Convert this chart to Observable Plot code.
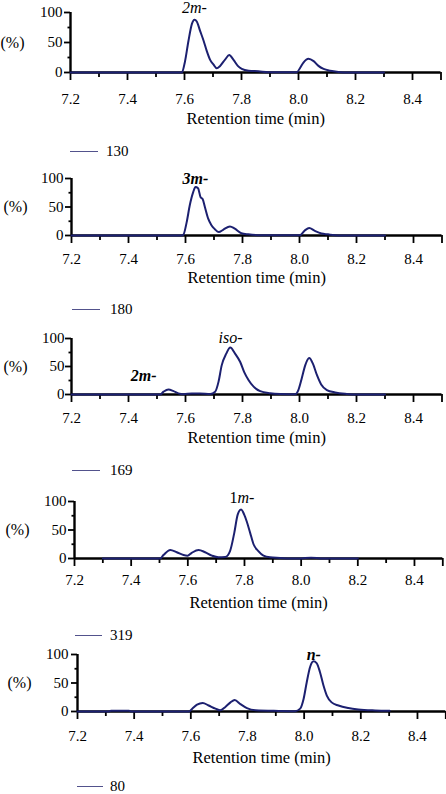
<!DOCTYPE html>
<html><head><meta charset="utf-8">
<script src="https://cdn.jsdelivr.net/npm/d3@7"></script>
<script src="https://cdn.jsdelivr.net/npm/@observablehq/plot@0.6"></script>
<style>
body{margin:0;background:#fff;}
#root{position:relative;width:446px;height:794px;overflow:hidden;font-family:"Liberation Serif","Times New Roman","DejaVu Serif",serif;color:#000;}
#root svg, #root svg text{font-family:"Liberation Serif","Times New Roman","DejaVu Serif",serif !important;}
.panel{position:absolute;left:0;}
.legend{position:absolute;font-size:15px;line-height:12px;height:12px;display:flex;align-items:center;white-space:nowrap;}
.legend .sw{display:inline-block;height:0;border-top:1.6px solid #52528c;}
</style></head><body><div id="root"></div>
<script>
// tick values
const xMajor = [7.2, 7.4, 7.6, 7.8, 8.0, 8.2, 8.4, 8.5];
const xLabeled = [7.2, 7.4, 7.6, 7.8, 8.0, 8.2, 8.4];
const xMinor = [7.3, 7.5, 7.7, 7.9, 8.1, 8.3];
const yMajor = [0, 50, 100];
const yMinor = [25, 75];
const ions = ["130", "180", "169", "319", "80"];

// m/z 130
const t130 = [7.2, 7.585, 7.591, 7.602, 7.614, 7.626, 7.635, 7.643, 7.655, 7.667, 7.678, 7.690, 7.702, 7.713, 7.725, 7.743, 7.757, 7.772, 7.787, 7.801, 7.825, 7.860, 7.895, 7.994, 8.006, 8.018, 8.035, 8.053, 8.070, 8.088, 8.111, 8.140, 8.17, 8.3];
const v130 = [0, 0, 0.5, 19, 53, 81, 88, 85, 69, 53, 36, 21, 13, 7, 11, 22, 29, 21, 11, 6, 3, 2, 0.5, 0.5, 8, 17, 23, 19, 11, 6, 3, 1, 0, 0];
// m/z 180
const t180 = [7.2, 7.586, 7.592, 7.604, 7.615, 7.627, 7.635, 7.644, 7.653, 7.660, 7.668, 7.680, 7.691, 7.703, 7.717, 7.732, 7.756, 7.773, 7.796, 7.82, 7.867, 8.001, 8.019, 8.034, 8.054, 8.077, 8.1, 8.124, 8.15, 8.3];
const v180 = [0, 0, 1, 23, 53, 76, 85, 83, 67, 64, 50, 29, 18, 11, 6, 10, 16, 12, 4, 2, 0.5, 0.5, 9, 13, 8, 3.5, 2, 0.5, 0, 0];
// m/z 169
const t169 = [7.2, 7.511, 7.523, 7.540, 7.558, 7.575, 7.593, 7.622, 7.651, 7.687, 7.704, 7.716, 7.727, 7.743, 7.757, 7.774, 7.792, 7.806, 7.821, 7.839, 7.862, 7.897, 7.932, 7.985, 7.996, 8.008, 8.020, 8.034, 8.047, 8.061, 8.076, 8.096, 8.125, 8.166, 8.2, 8.3];
const v169 = [0, 0, 5, 9, 6, 2, 0.5, 2, 2, 1, 5, 23, 52, 73, 84, 73, 58, 40, 26, 14, 6, 2.4, 1, 0.5, 8, 29, 52, 65, 55, 35, 18, 8, 3.6, 1, 0, 0];
// m/z 319
const t319 = [7.3, 7.502, 7.514, 7.538, 7.561, 7.585, 7.599, 7.614, 7.638, 7.661, 7.685, 7.708, 7.732, 7.749, 7.764, 7.776, 7.788, 7.799, 7.808, 7.820, 7.832, 7.849, 7.867, 7.890, 7.926, 7.96, 8.0, 8.014, 8.035, 8.055, 8.07, 8.2];
const v319 = [0, 0, 6, 15, 11, 6, 5, 10, 15, 11, 5, 2, 2.5, 13, 45, 77, 86, 77, 65, 45, 25, 13, 5, 2, 1, 0, 0, 1, 1.2, 1, 0, 0];
// m/z 80
const t80 = [7.2, 7.31, 7.318, 7.35, 7.382, 7.39, 7.593, 7.605, 7.622, 7.642, 7.663, 7.687, 7.704, 7.722, 7.740, 7.755, 7.775, 7.798, 7.828, 7.91, 7.968, 7.986, 7.998, 8.009, 8.021, 8.033, 8.044, 8.056, 8.068, 8.080, 8.097, 8.121, 8.156, 8.191, 8.25, 8.302];
const v80 = [0, 0, 1.5, 1.5, 1.5, 0, 0, 5, 12, 15, 10.5, 5, 2, 8, 16, 20, 13, 6, 2.3, 1, 0.5, 5, 22, 51, 78, 88, 85, 69, 46, 28, 16, 10.5, 6, 3.5, 1.8, 1.2];

// peak annotations: [text, time, %]
const labels130 = [["2m-", 7.635, 108]];
const labels180 = [["3m-", 7.635, 100]];
const labels169 = [["iso-", 7.758, 102], ["2m-", 7.453, 34]];
const labels319 = [["1", 7.775, 107], ["m-", 7.775, 107]];
const labels80 = [["n-", 8.034, 100]];

const series = [
  {t: t130, v: v130, labels: labels130},
  {t: t180, v: v180, labels: labels180},
  {t: t169, v: v169, labels: labels169},
  {t: t319, v: v319, labels: labels319},
  {t: t80, v: v80, labels: labels80}
];

// layout per panel
const layout = [
  {top: 0,   h: 60, ml: 70, mr: 5.5, tp: 13, xl: 46, pct: 0, yp: 2, leg: [70, 151, 28, 106], styles: [{fontStyle: "italic", fontWeight: "normal"}]},
  {top: 166, h: 57, ml: 71, mr: 4.5, tp: 10, xl: 42, pct: 3, yp: 2, leg: [72, 309, 28, 110], styles: [{fontStyle: "italic", fontWeight: "bold"}]},
  {top: 326, h: 56, ml: 71, mr: 4.5, tp: 10, xl: 43, pct: 3, yp: 1, leg: [72, 470, 28, 110], styles: [{fontStyle: "italic", fontWeight: "normal"}, {fontStyle: "italic", fontWeight: "bold"}]},
  {top: 489, h: 57, ml: 74, mr: 3.7, tp: 8,  xl: 44, pct: 5, yp: 2, leg: [75, 635, 27, 110], styles: [{fontStyle: "normal", fontWeight: "normal", anchor: "end"}, {fontStyle: "italic", fontWeight: "normal", anchor: "start"}]},
  {top: 642, h: 57, ml: 77, mr: 0.7, tp: 11, xl: 46, pct: 7, yp: 3, leg: [77, 786, 26, 110], styles: [{fontStyle: "italic", fontWeight: "bold"}]}
];

const root = document.getElementById("root");
const NAVY = "#1c2070";
const FONT = "Liberation Serif, Times New Roman, DejaVu Serif, serif";

series.forEach((s, i) => {
  const L = layout[i];
  const data = s.t.map((t, k) => ({t, v: s.v[k]}));
  const mT = 12, mB = 62;
  const labelMarks = s.labels.map((lab, j) => {
    const st = L.styles[j] || L.styles[0];
    return Plot.text([lab], {
      x: d => d[1], y: d => d[2], text: d => d[0],
      fontSize: 16, fontStyle: st.fontStyle, fontWeight: st.fontWeight, fontFamily: FONT,
      textAnchor: st.anchor || "middle", lineAnchor: "middle", fill: "#000"
    });
  });
  const chart = Plot.plot({
    width: 446,
    height: mT + L.h + mB,
    marginTop: mT, marginBottom: mB, marginLeft: L.ml, marginRight: L.mr,
    x: {domain: [7.2, 8.5], axis: null},
    y: {domain: [0, 100], axis: null},
    style: {fontFamily: FONT, fontSize: "15px", color: "#000", background: "transparent", overflow: "visible"},
    marks: [
      Plot.axisX(xMajor, {tickSize: 8, tickFormat: () => "", label: null, strokeWidth: 1.8}),
      Plot.axisX(xLabeled, {tickSize: 0, tickPadding: 8 + L.tp, tickFormat: d => d.toFixed(1), label: null, fontSize: 15, fontFamily: FONT}),
      Plot.axisX(xMinor, {tickSize: 5, tickFormat: () => "", label: null, strokeWidth: 1.8}),
      Plot.axisY(yMajor, {tickSize: 6, tickPadding: L.yp, label: null, fontSize: 15, fontFamily: FONT, strokeWidth: 1.8}),
      Plot.axisY(yMinor, {tickSize: 2.5, tickFormat: () => "", label: null, strokeWidth: 1.8}),
      Plot.ruleY([0], {x1: 7.2, x2: 8.5, stroke: "#000", strokeWidth: 2.4}),
      Plot.ruleX([7.2], {y1: 0, y2: 100, stroke: "#000", strokeWidth: 2.4}),
      Plot.line(data, {x: "t", y: "v", stroke: NAVY, strokeWidth: 2, curve: "monotone-x"}),
      ...labelMarks,
      Plot.text(["Retention time (min)"], {frameAnchor: "bottom", lineAnchor: "middle", dy: L.xl, fontSize: 16.5, fontFamily: FONT, fill: "#000"}),
      Plot.text(["(%)"], {frameAnchor: "left", lineAnchor: "middle", dx: -(L.ml - L.pct), textAnchor: "start", fontSize: 16, fontFamily: FONT, fill: "#000"})
    ]
  });
  const wrap = document.createElement("div");
  wrap.className = "panel";
  wrap.style.top = L.top + "px";
  wrap.appendChild(chart);
  root.appendChild(wrap);

  const [lx, ly, lw, tx] = L.leg;
  const leg = document.createElement("div");
  leg.className = "legend";
  leg.style.left = lx + "px";
  leg.style.top = (ly - 6) + "px";
  const sw = document.createElement("span");
  sw.className = "sw";
  sw.style.width = lw + "px";
  sw.style.marginRight = (tx - lx - lw) + "px";
  leg.appendChild(sw);
  leg.appendChild(document.createTextNode(ions[i]));
  root.appendChild(leg);
});
</script>
</body></html>
